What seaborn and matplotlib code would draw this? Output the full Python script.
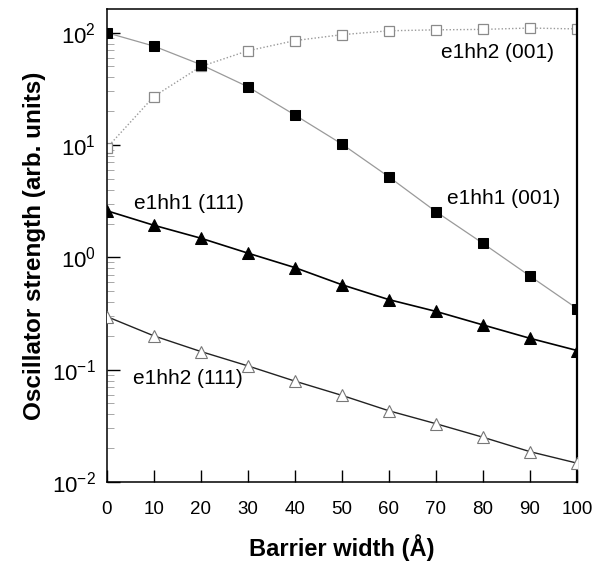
import matplotlib
matplotlib.use("Agg")
import matplotlib.pyplot as plt
import seaborn as sns
import numpy as np
from matplotlib.ticker import LogLocator, NullFormatter, FixedLocator, FuncFormatter

sns.set_style("ticks")
plt.rcParams['font.family'] = ['Liberation Sans', 'DejaVu Sans']
plt.rcParams['mathtext.fontset'] = 'custom'
plt.rcParams['mathtext.rm'] = 'Liberation Sans'
plt.rcParams['text.color'] = 'black'
plt.rcParams['axes.labelcolor'] = 'black'
plt.rcParams['xtick.color'] = 'black'
plt.rcParams['ytick.color'] = 'black'

barrier = [0, 10, 20, 30, 40, 50, 60, 70, 80, 90, 100]
e1hh1_001 = [100, 76, 52, 33, 18.5, 10.2, 5.2, 2.55, 1.33, 0.68, 0.35]
e1hh2_001 = [9.4, 27, 50, 69, 85, 96, 104, 106, 107, 110, 108]
e1hh1_111 = [2.6, 1.93, 1.48, 1.09, 0.81, 0.57, 0.42, 0.33, 0.25, 0.19, 0.148]
e1hh2_111 = [0.297, 0.20, 0.145, 0.108, 0.079, 0.059, 0.043, 0.033, 0.025, 0.0186, 0.0147]
labels = ["e1hh2 (001)", "e1hh1 (001)", "e1hh1 (111)", "e1hh2 (111)"]
xticks = [0, 10, 20, 30, 40, 50, 60, 70, 80, 90, 100]

fig = plt.figure(figsize=(6.10, 5.69), dpi=100)
ax = fig.add_axes([0.175, 0.153, 0.771, 0.831])

# e1hh2 (001): dotted light gray line, open squares
sns.lineplot(x=barrier, y=e1hh2_001, ax=ax, color="#9a9a9a", lw=1.0, linestyle=(0, (1, 1.5)),
             marker="s", markersize=7.5, markerfacecolor="white", markeredgecolor="#8a8a8a",
             markeredgewidth=0.9, zorder=2)
# e1hh1 (001): gray line, filled black squares
sns.lineplot(x=barrier, y=e1hh1_001, ax=ax, color="#9a9a9a", lw=0.9,
             marker="s", markersize=7.5, markerfacecolor="black", markeredgecolor="black",
             zorder=3)
# e1hh1 (111): black line, filled triangles
sns.lineplot(x=barrier, y=e1hh1_111, ax=ax, color="black", lw=1.2,
             marker="^", markersize=8.5, markerfacecolor="black", markeredgecolor="black",
             zorder=3)
# e1hh2 (111): black line, open triangles
sns.lineplot(x=barrier, y=e1hh2_111, ax=ax, color="#222222", lw=1.0,
             marker="^", markersize=8.5, markerfacecolor="white", markeredgecolor="#777777",
             markeredgewidth=0.8, zorder=3)

ax.set_yscale("log")
ax.set_xlim(0, 100)
ax.set_ylim(1e-2, 10 ** 2.21)
ax.xaxis.set_major_locator(FixedLocator(xticks))
ax.set_xticklabels([str(t) for t in xticks])
ax.yaxis.set_major_locator(LogLocator(base=10, numticks=10))
ax.yaxis.set_major_formatter(FuncFormatter(
    lambda v, p: r"$\mathregular{10^{%d}}$" % int(round(np.log10(v)))))
ax.yaxis.set_minor_locator(LogLocator(base=10, subs=np.arange(2, 10), numticks=20))
ax.yaxis.set_minor_formatter(NullFormatter())

ax.tick_params(axis="x", which="major", direction="in", length=9, width=1.0,
               labelsize=13.5, pad=14, colors="black")
ax.tick_params(axis="y", which="major", direction="in", length=9, width=1.0,
               labelsize=16, pad=8, colors="black")
ax.tick_params(axis="y", which="minor", direction="in", length=5, width=0.6, color="#999999")

for s in ax.spines.values():
    s.set_color("black")
    s.set_linewidth(1.1)
ax.spines["right"].set_linewidth(1.6)

ax.set_xlabel("Barrier width (Å)", fontsize=17, fontweight="bold", labelpad=11, color="black")
ax.set_ylabel("Oscillator strength (arb. units)", fontsize=17.5, fontweight="bold", labelpad=4,
              color="black")

tk = dict(fontsize=15, color="black", va="center", ha="left")
ax.text(71, 66, labels[0], **tk)
ax.text(72.4, 3.37, labels[1], **tk)
ax.text(5.7, 3.03, labels[2], **tk)
ax.text(5.5, 0.083, labels[3], **tk)

fig.savefig("out.png", dpi=100)
